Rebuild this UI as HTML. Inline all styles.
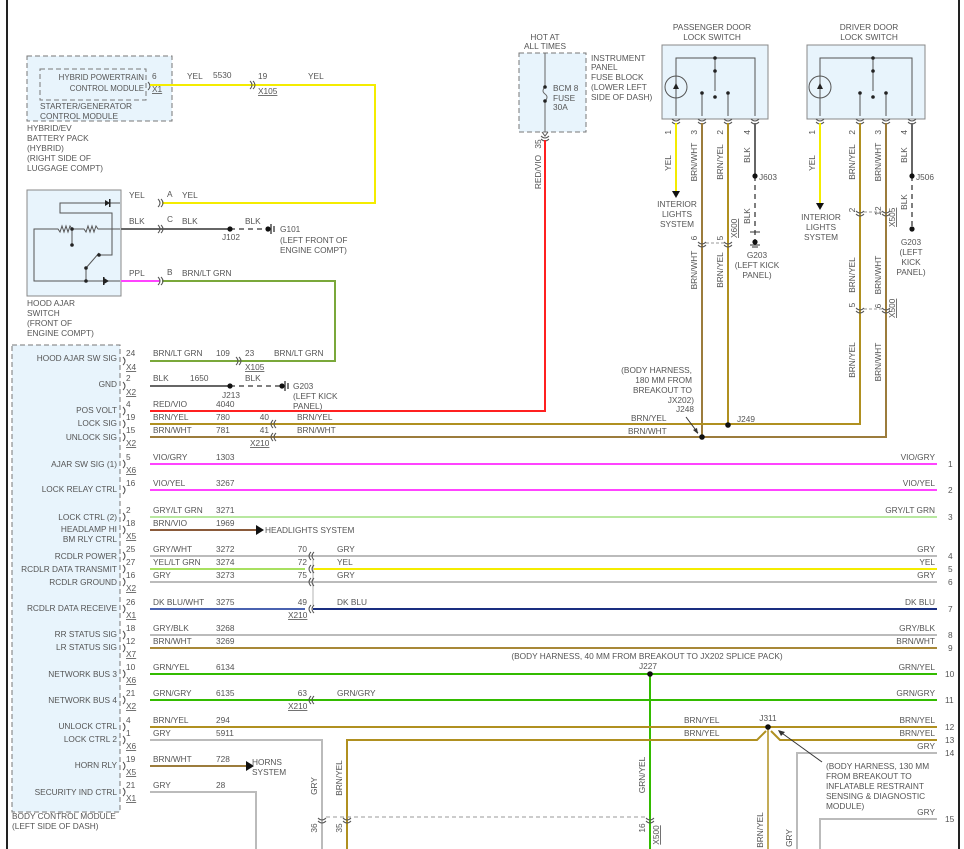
<!DOCTYPE html>
<html><head><meta charset="utf-8"><style>
html,body{margin:0;padding:0;background:#fff}
svg{display:block}
text{font-family:"Liberation Sans",sans-serif;font-size:8.3px;fill:#555}
.r{text-anchor:end}.m{text-anchor:middle}
.u{text-decoration:underline}
</style></head><body>
<svg width="964" height="849" viewBox="0 0 964 849" xmlns="http://www.w3.org/2000/svg">
<defs>
<g id="cl"><path d="M3,-4 Q-1,0 3,4 M6,-4 Q2,0 6,4" fill="none" stroke="#555" stroke-width="1"/></g>
<g id="cr"><path d="M-3,-4 Q1,0 -3,4 M-6,-4 Q-2,0 -6,4" fill="none" stroke="#555" stroke-width="1"/></g>
<g id="cd"><path d="M-4,-3 Q0,1 4,-3 M-4,0 Q0,4 4,0" fill="none" stroke="#555" stroke-width="1"/></g>
<g id="bp"><path d="M0,-4 Q4,0 0,4" fill="none" stroke="#555" stroke-width="1"/></g>
<g id="gnd"><path d="M0,-5 V5 M3,-3 V3" stroke="#333" stroke-width="1.3"/></g>
</defs>
<line x1="7" y1="0" x2="7" y2="849" stroke="#222" stroke-width="2"/>
<line x1="959" y1="0" x2="959" y2="849" stroke="#222" stroke-width="2"/>

<!-- Hybrid module -->
<rect x="27" y="56" width="145" height="65" fill="#e8f4fc" stroke="#777" stroke-dasharray="5,3"/>
<rect x="40" y="69" width="106" height="31" fill="none" stroke="#777" stroke-dasharray="5,3"/>
<text x="144" y="80" class="r" style="font-size:7.9px">HYBRID POWERTRAIN</text>
<text x="144" y="91" class="r" style="font-size:7.9px">CONTROL MODULE</text>
<text x="40" y="109">STARTER/GENERATOR</text>
<text x="40" y="119">CONTROL MODULE</text>
<text x="27" y="131">HYBRID/EV</text><text x="27" y="141">BATTERY PACK</text><text x="27" y="151">(HYBRID)</text><text x="27" y="161">(RIGHT SIDE OF</text><text x="27" y="171">LUGGAGE COMPT)</text>
<use href="#bp" x="148" y="86"/>
<text x="152" y="79">6</text><text x="152" y="92" class="u">X1</text>
<polyline points="150,85 375,85 375,203 162,203" fill="none" stroke="#f4ec00" stroke-width="2"/>
<use href="#cr" x="256" y="85"/>
<text x="187" y="79">YEL</text><text x="213" y="78">5530</text><text x="258" y="79">19</text><text x="258" y="94" class="u">X105</text><text x="308" y="79">YEL</text>

<!-- Hood ajar switch -->
<rect x="27" y="190" width="94" height="106" fill="#e8f4fc" stroke="#888"/>
<g stroke="#555" stroke-width="1" fill="none">
<polyline points="120,203 60,203 60,213 112,213 112,255 100,255"/>
<polyline points="120,229 98,229 96,226 94,232 92,226 90,232 88,226 86,232 84,229 72,229 70,226 68,232 66,226 64,232 62,226 60,232 58,229 34,229 34,281 120,281"/>
<line x1="72" y1="229" x2="72" y2="245"/>
<line x1="86" y1="281" x2="86" y2="268"/>
<line x1="86" y1="268" x2="99" y2="253"/>
</g>
<g fill="#222"><circle cx="72" cy="229" r="1.8"/><circle cx="72" cy="245" r="1.8"/><circle cx="86" cy="281" r="1.8"/><circle cx="86" cy="268" r="1.8"/><circle cx="99" cy="255" r="1.8"/>
<path d="M105,200 L110,203 L105,206Z M104,278 L109,281 L104,284Z"/><rect x="109" y="199" width="1.5" height="8"/><rect x="103" y="277" width="1.5" height="8"/></g>
<text x="27" y="306">HOOD AJAR</text><text x="27" y="316">SWITCH</text><text x="27" y="326">(FRONT OF</text><text x="27" y="336">ENGINE COMPT)</text>
<use href="#cr" x="164" y="203"/><text x="167" y="197">A</text>
<text x="129" y="198">YEL</text><text x="182" y="198">YEL</text>
<line x1="121" y1="229" x2="230" y2="229" stroke="#666" stroke-width="2"/>
<line x1="230" y1="229" x2="268" y2="229" stroke="#555" stroke-width="1.5" stroke-dasharray="5,4"/>
<circle cx="230" cy="229" r="2.6" fill="#111"/><circle cx="268" cy="229" r="2.6" fill="#111"/><use href="#gnd" x="271" y="229"/>
<use href="#cr" x="164" y="229"/><text x="167" y="222">C</text>
<text x="129" y="224">BLK</text><text x="182" y="224">BLK</text><text x="245" y="224">BLK</text><text x="222" y="240">J102</text>
<text x="280" y="232">G101</text><text x="280" y="243">(LEFT FRONT OF</text><text x="280" y="253">ENGINE COMPT)</text>
<line x1="121" y1="281" x2="160" y2="281" stroke="#ff44ff" stroke-width="2"/>
<polyline points="162,281 335,281 335,361 150,361" fill="none" stroke="#7aa83a" stroke-width="2"/>
<use href="#cr" x="164" y="281"/><text x="167" y="275">B</text>
<text x="129" y="276">PPL</text><text x="182" y="276">BRN/LT GRN</text>

<!-- Fuse block -->
<rect x="519" y="53" width="67" height="79" fill="#e8f4fc" stroke="#777" stroke-dasharray="5,3"/>
<text x="545" y="40" class="m">HOT AT</text><text x="545" y="49" class="m">ALL TIMES</text>
<path d="M545,53 V87 M545,101 V132" stroke="#666" stroke-width="1"/>
<path d="M545,87 Q541,91 545,94 Q549,97 545,101" fill="none" stroke="#666"/>
<circle cx="545" cy="87" r="1.8" fill="#222"/><circle cx="545" cy="101" r="1.8" fill="#222"/>
<path d="M542,132 L545,136 L548,132" fill="none" stroke="#555"/>
<text x="553" y="91">BCM 8</text><text x="553" y="101">FUSE</text><text x="553" y="110">30A</text>
<text x="591" y="61">INSTRUMENT</text><text x="591" y="70">PANEL</text><text x="591" y="80">FUSE BLOCK</text><text x="591" y="90">(LOWER LEFT</text><text x="591" y="100">SIDE OF DASH)</text>
<use href="#cd" x="545" y="139"/>
<polyline points="545,140 545,411 150,411" fill="none" stroke="#ff2020" stroke-width="2"/>
<text transform="translate(541,144) rotate(-90)" class="m">35</text>
<text transform="translate(541,172) rotate(-90)" class="m">RED/VIO</text>

<!-- Passenger door switch -->
<text x="712" y="30" class="m">PASSENGER DOOR</text><text x="712" y="40" class="m">LOCK SWITCH</text>
<rect x="662" y="45" width="106" height="74" fill="#e8f4fc" stroke="#888"/>
<g stroke="#555" fill="none"><polyline points="676,116 676,58 755,58 755,116"/><line x1="715" y1="58" x2="715" y2="71"/><line x1="715" y1="71" x2="715" y2="91"/>
<line x1="702" y1="93" x2="702" y2="116"/><line x1="728" y1="93" x2="728" y2="116"/><circle cx="676" cy="87" r="11"/></g>
<g fill="#222"><circle cx="715" cy="58" r="1.8"/><circle cx="715" cy="71" r="1.8"/><circle cx="715" cy="97" r="1.8"/><circle cx="702" cy="93" r="1.8"/><circle cx="728" cy="93" r="1.8"/><path d="M673,89 L676,83 L679,89Z"/></g>
<!-- Driver door switch -->
<text x="869" y="30" class="m">DRIVER DOOR</text><text x="869" y="40" class="m">LOCK SWITCH</text>
<rect x="807" y="45" width="118" height="74" fill="#e8f4fc" stroke="#888"/>
<g stroke="#555" fill="none"><polyline points="820,116 820,58 912,58 912,116"/><line x1="873" y1="58" x2="873" y2="91"/>
<line x1="860" y1="93" x2="860" y2="116"/><line x1="886" y1="93" x2="886" y2="116"/><circle cx="820" cy="87" r="11"/></g>
<g fill="#222"><circle cx="873" cy="58" r="1.8"/><circle cx="873" cy="71" r="1.8"/><circle cx="873" cy="97" r="1.8"/><circle cx="860" cy="93" r="1.8"/><circle cx="886" cy="93" r="1.8"/><path d="M817,89 L820,83 L823,89Z"/></g>
<g><use href="#cd" x="676" y="122"/><use href="#cd" x="702" y="122"/><use href="#cd" x="728" y="122"/><use href="#cd" x="755" y="122"/>
<use href="#cd" x="820" y="122"/><use href="#cd" x="860" y="122"/><use href="#cd" x="886" y="122"/><use href="#cd" x="912" y="122"/></g>
<!-- pin wires -->
<line x1="676" y1="123" x2="676" y2="191" stroke="#f4ec00" stroke-width="2"/><path d="M672,191 L680,191 L676,198Z" fill="#111"/>
<text x="677" y="207" class="m">INTERIOR</text><text x="677" y="217" class="m">LIGHTS</text><text x="677" y="227" class="m">SYSTEM</text>
<line x1="820" y1="123" x2="820" y2="203" stroke="#f4ec00" stroke-width="2"/><path d="M816,203 L824,203 L820,210Z" fill="#111"/>
<text x="821" y="220" class="m">INTERIOR</text><text x="821" y="230" class="m">LIGHTS</text><text x="821" y="240" class="m">SYSTEM</text>
<polyline points="702,123 702,437 150,437" fill="none" stroke="#9c7c3c" stroke-width="2"/>
<polyline points="728,123 728,424 150,424" fill="none" stroke="#b09020" stroke-width="2"/>
<polyline points="860,123 860,424 728,424" fill="none" stroke="#b09020" stroke-width="2"/>
<polyline points="886,123 886,437 702,437" fill="none" stroke="#9c7c3c" stroke-width="2"/>
<line x1="755" y1="123" x2="755" y2="176" stroke="#666" stroke-width="2"/>
<line x1="755" y1="176" x2="755" y2="240" stroke="#555" stroke-width="1.5" stroke-dasharray="5,4"/>
<line x1="912" y1="123" x2="912" y2="176" stroke="#666" stroke-width="2"/>
<line x1="912" y1="176" x2="912" y2="228" stroke="#555" stroke-width="1.5" stroke-dasharray="5,4"/>
<g fill="#111"><circle cx="755" cy="176" r="2.6"/><circle cx="912" cy="176" r="2.6"/><circle cx="755" cy="242" r="2.6"/><circle cx="912" cy="229" r="2.6"/></g>
<path d="M750,245 H760 M752,247 H758 M750,232 H760" stroke="#333"/>
<text x="759" y="180">J603</text><text x="916" y="180">J506</text>
<text x="757" y="258" class="m">G203</text><text x="757" y="268" class="m">(LEFT KICK</text><text x="757" y="278" class="m">PANEL)</text>
<text x="911" y="245" class="m">G203</text><text x="911" y="255" class="m">(LEFT</text><text x="911" y="265" class="m">KICK</text><text x="911" y="275" class="m">PANEL)</text>
<!-- rotated labels -->
<g>
<text transform="translate(671,130) rotate(-90)" class="r">1</text><text transform="translate(697,130) rotate(-90)" class="r">3</text><text transform="translate(723,130) rotate(-90)" class="r">2</text><text transform="translate(750,130) rotate(-90)" class="r">4</text>
<text transform="translate(815,130) rotate(-90)" class="r">1</text><text transform="translate(855,130) rotate(-90)" class="r">2</text><text transform="translate(881,130) rotate(-90)" class="r">3</text><text transform="translate(907,130) rotate(-90)" class="r">4</text>
<text transform="translate(671,163) rotate(-90)" class="m">YEL</text><text transform="translate(697,162) rotate(-90)" class="m">BRN/WHT</text><text transform="translate(723,162) rotate(-90)" class="m">BRN/YEL</text><text transform="translate(750,155) rotate(-90)" class="m">BLK</text>
<text transform="translate(815,163) rotate(-90)" class="m">YEL</text><text transform="translate(855,162) rotate(-90)" class="m">BRN/YEL</text><text transform="translate(881,162) rotate(-90)" class="m">BRN/WHT</text><text transform="translate(907,155) rotate(-90)" class="m">BLK</text>
<text transform="translate(750,216) rotate(-90)" class="m">BLK</text><text transform="translate(907,202) rotate(-90)" class="m">BLK</text>
<text transform="translate(697,238) rotate(-90)" class="m">6</text><text transform="translate(723,238) rotate(-90)" class="m">5</text><text transform="translate(737,238) rotate(-90)" class="u">X600</text>
<text transform="translate(697,270) rotate(-90)" class="m">BRN/WHT</text><text transform="translate(723,270) rotate(-90)" class="m">BRN/YEL</text>
<text transform="translate(855,210) rotate(-90)" class="m">2</text><text transform="translate(881,211) rotate(-90)" class="m">12</text><text transform="translate(895,227) rotate(-90)" class="u">X505</text>
<text transform="translate(855,275) rotate(-90)" class="m">BRN/YEL</text><text transform="translate(881,275) rotate(-90)" class="m">BRN/WHT</text>
<text transform="translate(855,305) rotate(-90)" class="m">5</text><text transform="translate(881,306) rotate(-90)" class="m">6</text><text transform="translate(895,318) rotate(-90)" class="u">X500</text>
<text transform="translate(855,360) rotate(-90)" class="m">BRN/YEL</text><text transform="translate(881,362) rotate(-90)" class="m">BRN/WHT</text>
</g>
<use href="#cd" x="702" y="245"/><use href="#cd" x="728" y="245"/><line x1="706" y1="243" x2="724" y2="243" stroke="#999" stroke-dasharray="3,2"/>
<use href="#cd" x="860" y="214"/><use href="#cd" x="886" y="214"/><line x1="864" y1="212" x2="882" y2="212" stroke="#999" stroke-dasharray="3,2"/>
<use href="#cd" x="860" y="311"/><use href="#cd" x="886" y="311"/><line x1="864" y1="309" x2="882" y2="309" stroke="#999" stroke-dasharray="3,2"/>
<text x="692" y="373" class="r">(BODY HARNESS,</text><text x="692" y="383" class="r">180 MM FROM</text><text x="692" y="393" class="r">BREAKOUT TO</text><text x="694" y="403" class="r">JX202)</text><text x="694" y="412" class="r">J248</text>
<path d="M686,417 L698,433" stroke="#333"/><path d="M698,434 L693,430 L697,428Z" fill="#333"/>
<circle cx="702" cy="437" r="2.8" fill="#111"/><circle cx="728" cy="425" r="2.8" fill="#111"/>
<text x="737" y="422">J249</text><text x="631" y="421">BRN/YEL</text><text x="628" y="434">BRN/WHT</text>

<!-- BCM -->
<rect x="12" y="345" width="108" height="467" fill="#e8f4fc" stroke="#777" stroke-dasharray="5,3"/>
<text x="12" y="819">BODY CONTROL MODULE</text><text x="12" y="829">(LEFT SIDE OF DASH)</text>
<g>
<line x1="150" y1="386" x2="230" y2="386" stroke="#666" stroke-width="2"/>
<line x1="230" y1="386" x2="282" y2="386" stroke="#555" stroke-width="1.5" stroke-dasharray="5,4"/>
<circle cx="230" cy="386" r="2.6" fill="#111"/><circle cx="282" cy="386" r="2.6" fill="#111"/><use href="#gnd" x="285" y="386"/>
<text x="222" y="398">J213</text><text x="245" y="381">BLK</text>
<text x="293" y="389">G203</text><text x="293" y="399">(LEFT KICK</text><text x="293" y="409">PANEL)</text>
<line x1="150" y1="464" x2="937" y2="464" stroke="#ff44ff" stroke-width="2"/>
<line x1="150" y1="490" x2="937" y2="490" stroke="#ff44ff" stroke-width="2"/>
<line x1="150" y1="517" x2="937" y2="517" stroke="#b8e8a0" stroke-width="2"/>
<line x1="150" y1="530" x2="256" y2="530" stroke="#8a5a3a" stroke-width="2"/><path d="M256,525 L264,530 L256,535Z" fill="#111"/>
<line x1="150" y1="556" x2="937" y2="556" stroke="#bbb" stroke-width="2"/>
<line x1="150" y1="569" x2="305" y2="569" stroke="#a8e060" stroke-width="2"/><line x1="313" y1="569" x2="937" y2="569" stroke="#f4ec00" stroke-width="2"/>
<line x1="150" y1="582" x2="937" y2="582" stroke="#bbb" stroke-width="2"/>
<line x1="150" y1="609" x2="305" y2="609" stroke="#4a62b0" stroke-width="2"/><line x1="313" y1="609" x2="937" y2="609" stroke="#1a2e80" stroke-width="2"/>
<line x1="313" y1="560" x2="313" y2="605" stroke="#ccc" stroke-width="1.5"/>
<line x1="150" y1="635" x2="937" y2="635" stroke="#bbb" stroke-width="2"/>
<line x1="150" y1="648" x2="937" y2="648" stroke="#a88838" stroke-width="2"/>
<line x1="150" y1="674" x2="937" y2="674" stroke="#33bb00" stroke-width="2"/>
<line x1="650" y1="674" x2="650" y2="849" stroke="#33bb00" stroke-width="2"/>
<line x1="150" y1="700" x2="937" y2="700" stroke="#33bb00" stroke-width="2"/>
<line x1="150" y1="727" x2="937" y2="727" stroke="#b09020" stroke-width="2"/>
<polyline points="347,849 347,740 757,740 766,731" fill="none" stroke="#b09020" stroke-width="2"/>
<polyline points="771,731 780,740 937,740" fill="none" stroke="#b09020" stroke-width="2"/>
<line x1="768" y1="727" x2="768" y2="849" stroke="#b09020" stroke-width="1.5"/>
<polyline points="150,740 322,740 322,849" fill="none" stroke="#bbb" stroke-width="2"/>
<polyline points="937,753 797,753 797,849" fill="none" stroke="#bbb" stroke-width="2"/>
<polyline points="937,819 820,819 820,849" fill="none" stroke="#bbb" stroke-width="2"/>
<line x1="150" y1="766" x2="246" y2="766" stroke="#9c7c3c" stroke-width="2"/><path d="M246,761 L254,766 L246,771Z" fill="#111"/>
<polyline points="150,792 256,792 256,849" fill="none" stroke="#bbb" stroke-width="2"/>
<circle cx="650" cy="674" r="2.8" fill="#111"/><circle cx="768" cy="727" r="2.8" fill="#111"/>
</g>
<!-- BCM labels -->
<g>
<text x="117" y="361" class="r">HOOD AJAR SW SIG</text><text x="117" y="387" class="r">GND</text><text x="117" y="413" class="r">POS VOLT</text><text x="117" y="426" class="r">LOCK SIG</text><text x="117" y="440" class="r">UNLOCK SIG</text>
<text x="117" y="467" class="r">AJAR SW SIG (1)</text><text x="117" y="492" class="r">LOCK RELAY CTRL</text><text x="117" y="520" class="r">LOCK CTRL (2)</text><text x="117" y="532" class="r">HEADLAMP HI</text><text x="117" y="542" class="r">BM RLY CTRL</text>
<text x="117" y="559" class="r">RCDLR POWER</text><text x="117" y="572" class="r">RCDLR DATA TRANSMIT</text><text x="117" y="585" class="r">RCDLR GROUND</text><text x="117" y="611" class="r">RCDLR DATA RECEIVE</text>
<text x="117" y="637" class="r">RR STATUS SIG</text><text x="117" y="650" class="r">LR STATUS SIG</text><text x="117" y="677" class="r">NETWORK BUS 3</text><text x="117" y="703" class="r">NETWORK BUS 4</text>
<text x="117" y="729" class="r">UNLOCK CTRL</text><text x="117" y="742" class="r">LOCK CTRL 2</text><text x="117" y="768" class="r">HORN RLY</text><text x="117" y="795" class="r">SECURITY IND CTRL</text>
</g>
<g>
<use href="#bp" x="123" y="361"/><use href="#bp" x="123" y="386"/><use href="#bp" x="123" y="411"/><use href="#bp" x="123" y="424"/><use href="#bp" x="123" y="437"/><use href="#bp" x="123" y="464"/><use href="#bp" x="123" y="490"/><use href="#bp" x="123" y="517"/><use href="#bp" x="123" y="530"/><use href="#bp" x="123" y="556"/><use href="#bp" x="123" y="569"/><use href="#bp" x="123" y="582"/><use href="#bp" x="123" y="609"/><use href="#bp" x="123" y="635"/><use href="#bp" x="123" y="648"/><use href="#bp" x="123" y="674"/><use href="#bp" x="123" y="700"/><use href="#bp" x="123" y="727"/><use href="#bp" x="123" y="740"/><use href="#bp" x="123" y="766"/><use href="#bp" x="123" y="792"/>
</g>
<g>
<text x="126" y="356">24</text><text x="153" y="356">BRN/LT GRN</text><text x="216" y="356">109</text><text x="126" y="370" class="u">X4</text>
<use href="#cr" x="242" y="361"/><text x="245" y="356">23</text><text x="245" y="370" class="u">X105</text><text x="274" y="356">BRN/LT GRN</text>
<text x="126" y="381">2</text><text x="153" y="381">BLK</text><text x="190" y="381">1650</text><text x="126" y="395" class="u">X2</text>
<text x="126" y="407">4</text><text x="153" y="407">RED/VIO</text><text x="216" y="407">4040</text>
<text x="126" y="420">19</text><text x="153" y="420">BRN/YEL</text><text x="216" y="420">780</text><text x="269" y="420" class="r">40</text><text x="297" y="420">BRN/YEL</text>
<text x="126" y="433">15</text><text x="153" y="433">BRN/WHT</text><text x="216" y="433">781</text><text x="269" y="433" class="r">41</text><text x="297" y="433">BRN/WHT</text>
<use href="#cl" x="270" y="424"/><use href="#cl" x="270" y="437"/><text x="126" y="446" class="u">X2</text><text x="250" y="446" class="u">X210</text>
<text x="126" y="460">5</text><text x="153" y="460">VIO/GRY</text><text x="216" y="460">1303</text><text x="126" y="473" class="u">X6</text>
<text x="126" y="486">16</text><text x="153" y="486">VIO/YEL</text><text x="216" y="486">3267</text>
<text x="126" y="513">2</text><text x="153" y="513">GRY/LT GRN</text><text x="216" y="513">3271</text>
<text x="126" y="526">18</text><text x="153" y="526">BRN/VIO</text><text x="216" y="526">1969</text><text x="265" y="533">HEADLIGHTS SYSTEM</text><text x="126" y="539" class="u">X5</text>
<text x="126" y="552">25</text><text x="153" y="552">GRY/WHT</text><text x="216" y="552">3272</text><text x="307" y="552" class="r">70</text><text x="337" y="552">GRY</text>
<text x="126" y="565">27</text><text x="153" y="565">YEL/LT GRN</text><text x="216" y="565">3274</text><text x="307" y="565" class="r">72</text><text x="337" y="565">YEL</text>
<text x="126" y="578">16</text><text x="153" y="578">GRY</text><text x="216" y="578">3273</text><text x="307" y="578" class="r">75</text><text x="337" y="578">GRY</text><text x="126" y="591" class="u">X2</text>
<use href="#cl" x="308" y="556"/><use href="#cl" x="308" y="569"/><use href="#cl" x="308" y="582"/><use href="#cl" x="308" y="609"/>
<text x="126" y="605">26</text><text x="153" y="605">DK BLU/WHT</text><text x="216" y="605">3275</text><text x="307" y="605" class="r">49</text><text x="337" y="605">DK BLU</text><text x="126" y="618" class="u">X1</text><text x="288" y="618" class="u">X210</text>
<text x="126" y="631">18</text><text x="153" y="631">GRY/BLK</text><text x="216" y="631">3268</text>
<text x="126" y="644">12</text><text x="153" y="644">BRN/WHT</text><text x="216" y="644">3269</text><text x="126" y="657" class="u">X7</text>
<text x="126" y="670">10</text><text x="153" y="670">GRN/YEL</text><text x="216" y="670">6134</text><text x="126" y="683" class="u">X6</text>
<text x="126" y="696">21</text><text x="153" y="696">GRN/GRY</text><text x="216" y="696">6135</text><text x="307" y="696" class="r">63</text><text x="337" y="696">GRN/GRY</text><use href="#cl" x="308" y="700"/><text x="126" y="709" class="u">X2</text><text x="288" y="709" class="u">X210</text>
<text x="126" y="723">4</text><text x="153" y="723">BRN/YEL</text><text x="216" y="723">294</text>
<text x="126" y="736">1</text><text x="153" y="736">GRY</text><text x="216" y="736">5911</text><text x="126" y="749" class="u">X6</text>
<text x="126" y="762">19</text><text x="153" y="762">BRN/WHT</text><text x="216" y="762">728</text><text x="126" y="775" class="u">X5</text><text x="252" y="765">HORNS</text><text x="252" y="775">SYSTEM</text>
<text x="126" y="788">21</text><text x="153" y="788">GRY</text><text x="216" y="788">28</text><text x="126" y="801" class="u">X1</text>
</g>
<!-- right side labels -->
<g>
<text x="935" y="460" class="r">VIO/GRY</text><text x="948" y="467">1</text>
<text x="935" y="486" class="r">VIO/YEL</text><text x="948" y="493">2</text>
<text x="935" y="513" class="r">GRY/LT GRN</text><text x="948" y="520">3</text>
<text x="935" y="552" class="r">GRY</text><text x="948" y="559">4</text>
<text x="935" y="565" class="r">YEL</text><text x="948" y="572">5</text>
<text x="935" y="578" class="r">GRY</text><text x="948" y="585">6</text>
<text x="935" y="605" class="r">DK BLU</text><text x="948" y="612">7</text>
<text x="935" y="631" class="r">GRY/BLK</text><text x="948" y="638">8</text>
<text x="935" y="644" class="r">BRN/WHT</text><text x="948" y="651">9</text>
<text x="935" y="670" class="r">GRN/YEL</text><text x="945" y="677">10</text>
<text x="935" y="696" class="r">GRN/GRY</text><text x="945" y="703">11</text>
<text x="935" y="723" class="r">BRN/YEL</text><text x="945" y="730">12</text>
<text x="935" y="736" class="r">BRN/YEL</text><text x="945" y="743">13</text>
<text x="935" y="749" class="r">GRY</text><text x="945" y="756">14</text>
<text x="935" y="815" class="r">GRY</text><text x="945" y="822">15</text>
<text x="647" y="659" class="m">(BODY HARNESS, 40 MM FROM BREAKOUT TO JX202 SPLICE PACK)</text>
<text x="648" y="669" class="m">J227</text>
<text x="768" y="721" class="m">J311</text>
<text x="684" y="723">BRN/YEL</text><text x="684" y="736">BRN/YEL</text>
<path d="M822,762 L779,731" stroke="#333"/><path d="M778,730 L785,732 L781,736Z" fill="#333"/>
<text x="826" y="769">(BODY HARNESS, 130 MM</text><text x="826" y="779">FROM BREAKOUT TO</text><text x="826" y="789">INFLATABLE RESTRAINT</text><text x="826" y="799">SENSING &amp; DIAGNOSTIC</text><text x="826" y="809">MODULE)</text>
<line x1="326" y1="817" x2="646" y2="817" stroke="#999" stroke-dasharray="4,3"/>
<use href="#cd" x="322" y="821"/><use href="#cd" x="347" y="821"/><use href="#cd" x="650" y="821"/>
<text transform="translate(317,828) rotate(-90)" class="m">36</text><text transform="translate(342,828) rotate(-90)" class="m">35</text><text transform="translate(645,828) rotate(-90)" class="m">16</text><text transform="translate(659,835) rotate(-90)" class="u m">X500</text>
<text transform="translate(317,786) rotate(-90)" class="m">GRY</text><text transform="translate(342,778) rotate(-90)" class="m">BRN/YEL</text><text transform="translate(645,775) rotate(-90)" class="m">GRN/YEL</text>
<text transform="translate(763,830) rotate(-90)" class="m">BRN/YEL</text><text transform="translate(792,838) rotate(-90)" class="m">GRY</text>
</g>
</svg>
</body></html>
